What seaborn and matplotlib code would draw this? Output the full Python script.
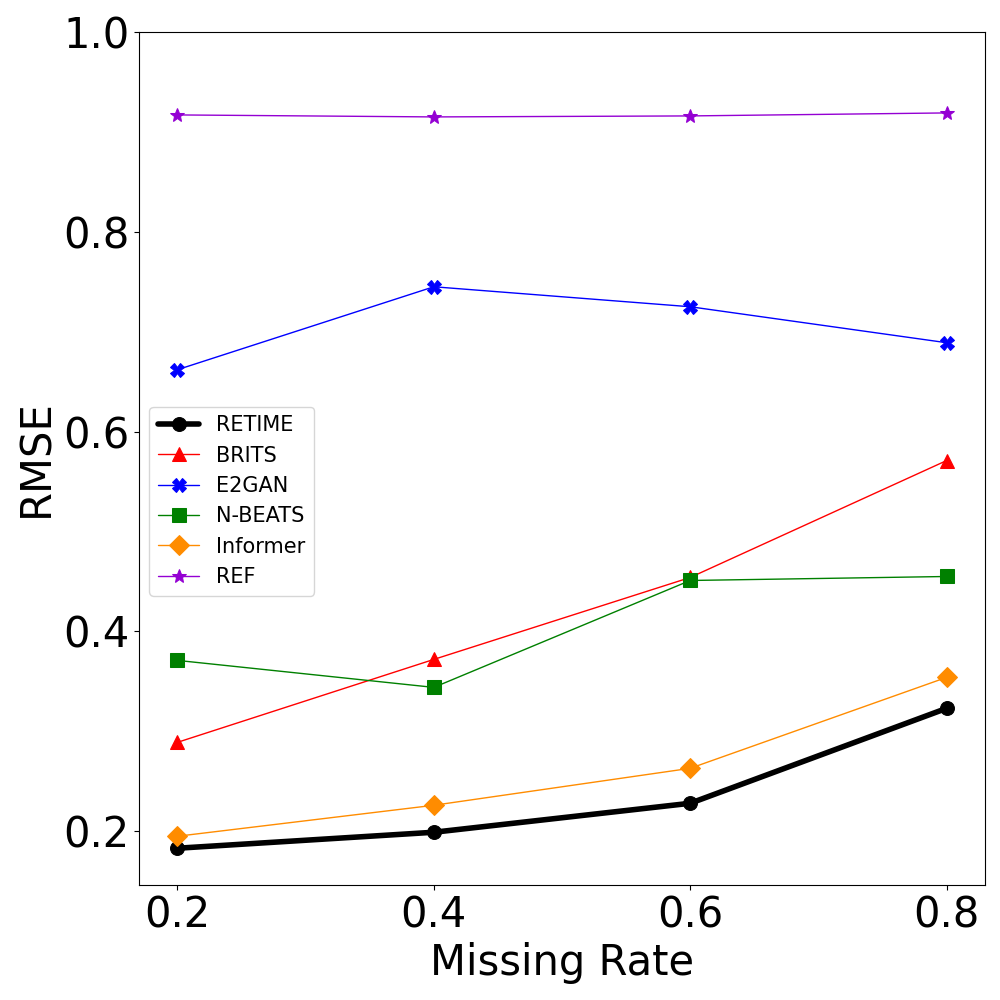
import matplotlib
matplotlib.use("Agg")
import matplotlib.pyplot as plt
import seaborn as sns
import pandas as pd

missing_rate = [0.2, 0.4, 0.6, 0.8]
retime = [0.183, 0.199, 0.228, 0.323]
brits = [0.289, 0.372, 0.454, 0.571]
e2gan = [0.662, 0.745, 0.725, 0.689]
nbeats = [0.371, 0.344, 0.451, 0.455]
informer = [0.195, 0.226, 0.263, 0.354]
ref = [0.917, 0.915, 0.916, 0.919]

series = [
    ("RETIME", retime, "black", "o", 4),
    ("BRITS", brits, "red", "^", 1),
    ("E2GAN", e2gan, "blue", "X", 1),
    ("N-BEATS", nbeats, "green", "s", 1),
    ("Informer", informer, "darkorange", "D", 1),
    ("REF", ref, "darkviolet", "*", 1),
]

sns.set_style("ticks", rc={
    "text.color": "black", "axes.labelcolor": "black",
    "xtick.color": "black", "ytick.color": "black", "axes.edgecolor": "black",
})
plt.rcParams['font.family'] = ['DejaVu Sans']

fig, ax = plt.subplots(figsize=(10, 10), dpi=100)
for name, vals, color, marker, lw in series:
    df = pd.DataFrame({"x": missing_rate, "y": vals})
    sns.lineplot(data=df, x="x", y="y", ax=ax, color=color, marker=marker,
                 linewidth=lw, markersize=10, markeredgecolor=color,
                 label=name)

ax.set_ylim(top=1.0)
ax.set_xticks(missing_rate)
ax.set_xticklabels(["0.2", "0.4", "0.6", "0.8"])
ax.set_yticks([0.2, 0.4, 0.6, 0.8, 1.0])
ax.tick_params(labelsize=30, colors="black")
ax.set_xlabel("Missing Rate", fontsize=30)
ax.set_ylabel("RMSE", fontsize=30)
ax.legend(fontsize=15, loc="center left", bbox_to_anchor=(0.0, 0.45))
fig.subplots_adjust(left=0.139, right=0.985, top=0.968, bottom=0.115)
fig.savefig("out.png", dpi=100)
